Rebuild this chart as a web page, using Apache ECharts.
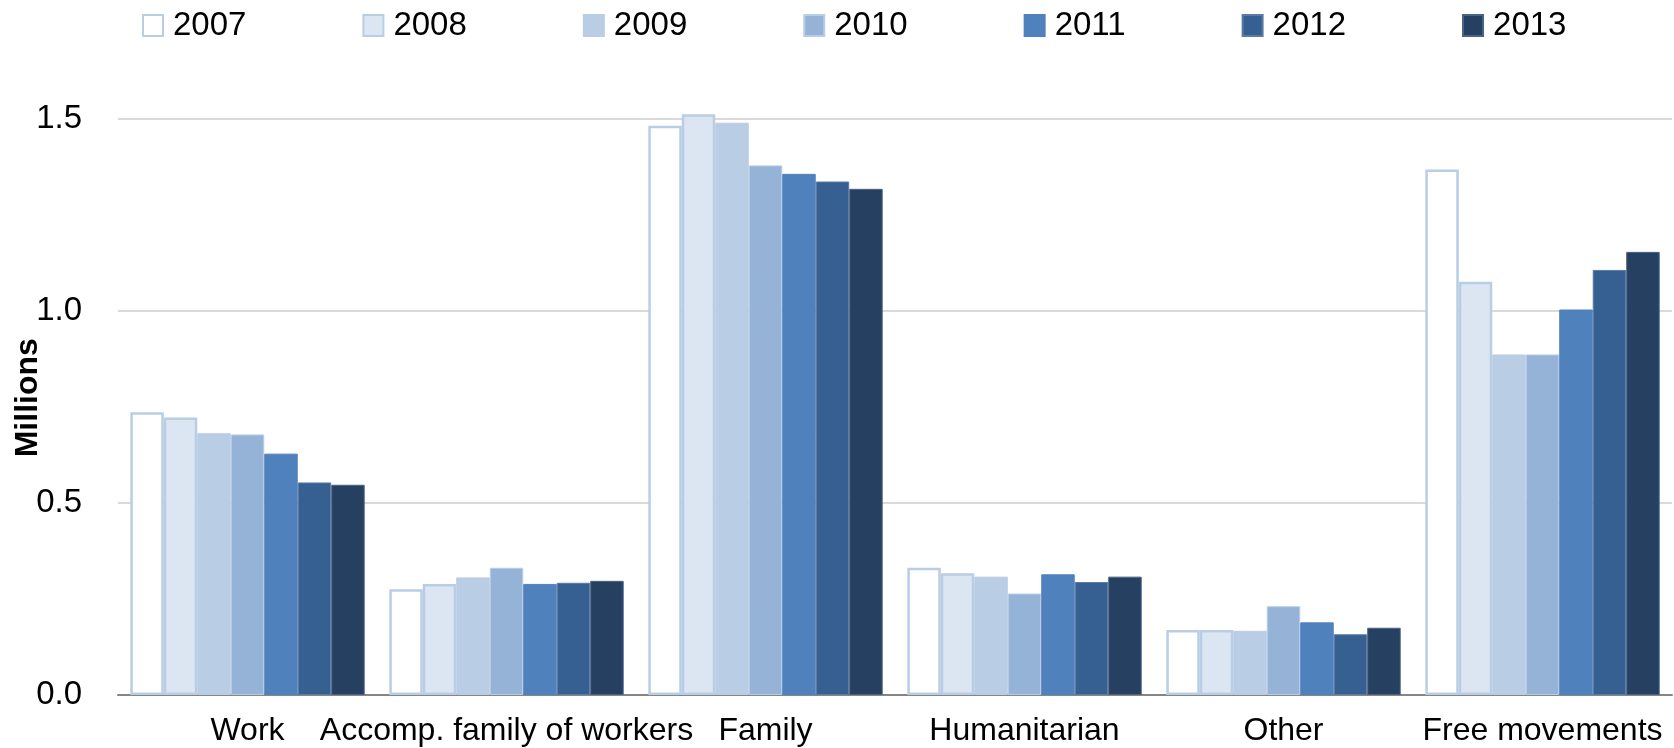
<!DOCTYPE html>
<html>
<head>
<meta charset="utf-8">
<script src="https://cdn.jsdelivr.net/npm/echarts@6/dist/echarts.min.js"></script>
<style>
  html, body { margin: 0; padding: 0; background: #fff; }
  #chart { width: 1674px; height: 748px; }
</style>
</head>
<body>
<div id="chart"></div>
<script>
// Categories of entry and the yearly values (millions)
const categories = ['Work', 'Accomp. family of workers', 'Family', 'Humanitarian', 'Other', 'Free movements'];
const years = ['2007', '2008', '2009', '2010', '2011', '2012', '2013'];

const v2007 = [0.736, 0.275, 1.481, 0.331, 0.169, 1.367];
const v2008 = [0.722, 0.289, 1.511, 0.317, 0.169, 1.075];
const v2009 = [0.681, 0.306, 1.489, 0.308, 0.167, 0.886];
const v2010 = [0.678, 0.331, 1.378, 0.264, 0.231, 0.886];
const v2011 = [0.628, 0.289, 1.356, 0.314, 0.189, 1.003];
const v2012 = [0.553, 0.292, 1.336, 0.294, 0.158, 1.106];
const v2013 = [0.547, 0.297, 1.317, 0.308, 0.175, 1.153];

const yTicks = [0, 0.5, 1.0, 1.5];

const seriesValues = [v2007, v2008, v2009, v2010, v2011, v2012, v2013];
const fills = ['#FFFFFF', '#DCE6F2', '#B9CDE5', '#95B3D7', '#4F81BD', '#376092', '#254061'];
const borders = ['#B9CDE5', '#B9CDE5', '#B9CDE5', '#B9CDE5', '#4F81BD', '#5A7BA6', '#4A6283'];
const borderWidths = [2.5, 2.5, 1, 1, 1, 1, 1];

const FONT = 'Liberation Sans';

const chart = echarts.init(document.getElementById('chart'), null, { renderer: 'canvas' });

chart.setOption({
  animation: false,
  backgroundColor: '#ffffff',
  legend: {
    data: years,
    top: 4,
    left: 137,
    itemWidth: 20,
    itemHeight: 21,
    itemGap: 116,
    icon: 'rect',
    textStyle: { fontFamily: FONT, fontSize: 33, color: '#000', padding: [0, 0, 0, 5] }
  },
  grid: {
    left: 118, right: 2, top: 118.5, bottom: 53,
    containLabel: false,
    outerBoundsMode: 'none'
  },
  xAxis: {
    type: 'category',
    data: categories,
    axisLine: { lineStyle: { color: '#868686', width: 2 } },
    axisTick: { show: false },
    axisLabel: { fontFamily: FONT, fontSize: 32, color: '#000', margin: 20, interval: 0 }
  },
  yAxis: {
    type: 'value',
    min: yTicks[0],
    max: yTicks[yTicks.length - 1],
    interval: 0.5,
    name: 'Millions',
    nameLocation: 'middle',
    nameGap: 74,
    nameMoveOverlap: false,
    nameTextStyle: {
      fontFamily: FONT, fontSize: 32, fontWeight: 'bold', color: '#000',
      padding: [0, 0, 0, 18]
    },
    axisLine: { show: false },
    axisTick: { show: false },
    splitLine: { lineStyle: { color: '#D9D9D9', width: 2 } },
    axisLabel: {
      fontFamily: FONT, fontSize: 33, color: '#000', margin: 36,
      formatter: v => v.toFixed(1)
    }
  },
  series: years.map((y, i) => ({
    name: y,
    type: 'bar',
    data: seriesValues[i],
    barGap: '0%',
    barCategoryGap: '9.5%',
    clip: false,
    itemStyle: { color: fills[i], borderColor: borders[i], borderWidth: borderWidths[i] }
  }))
});
</script>
</body>
</html>
